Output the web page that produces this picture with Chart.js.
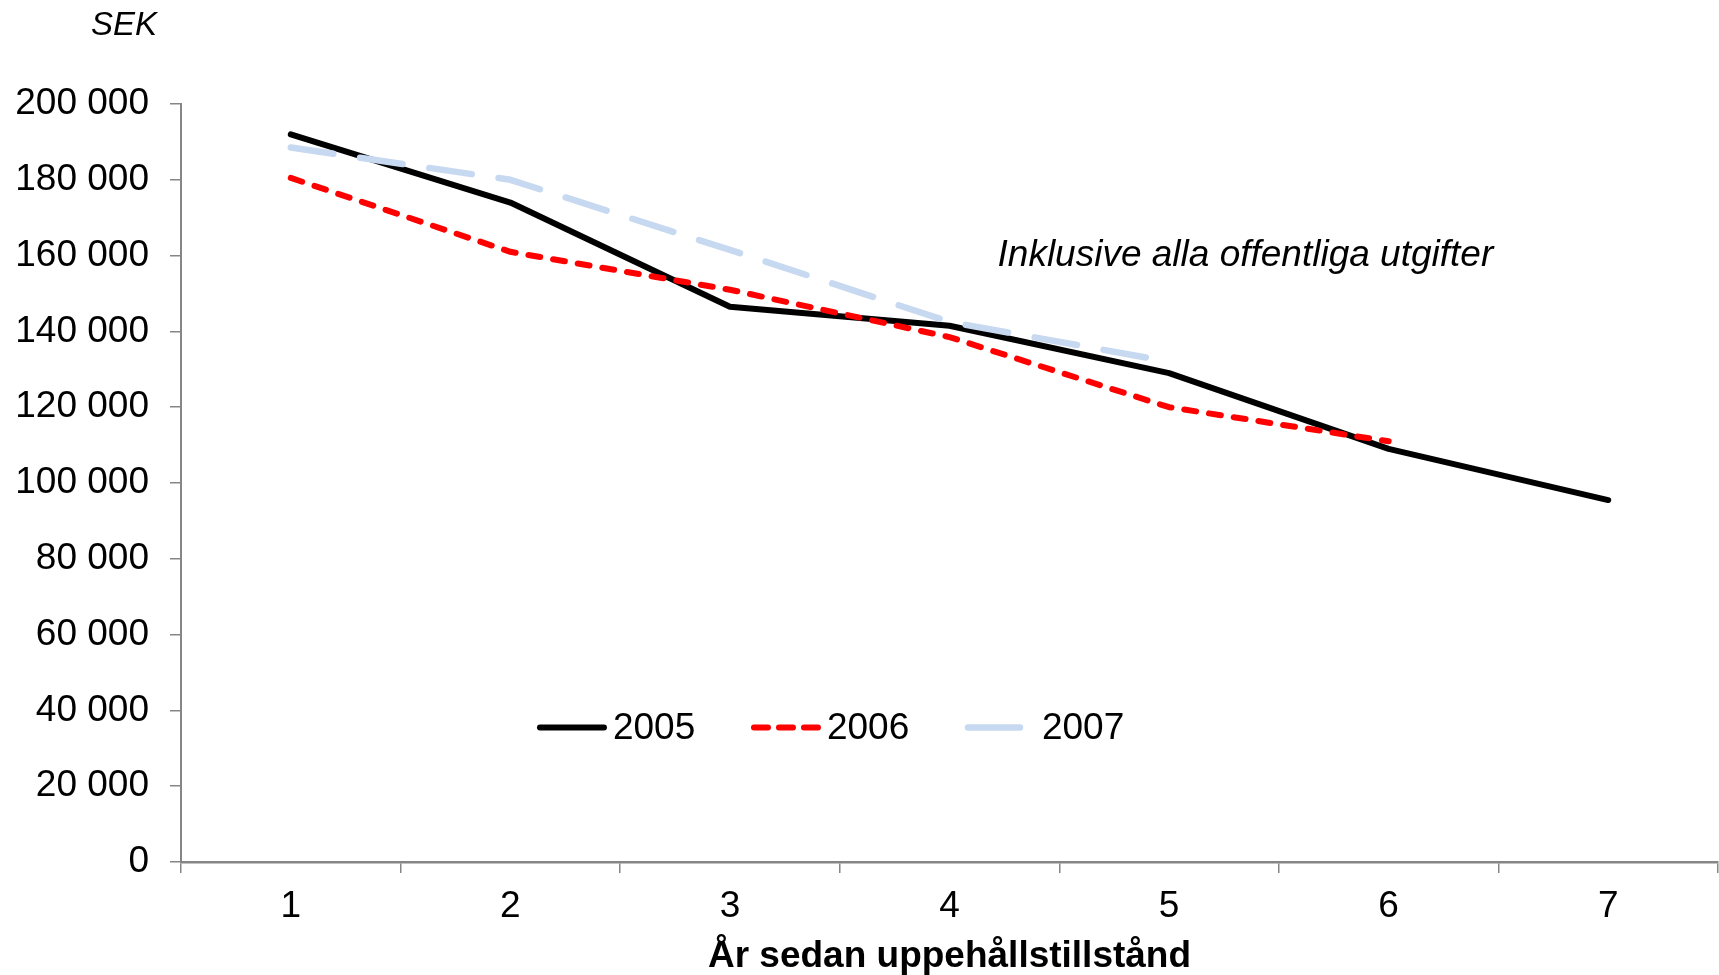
<!DOCTYPE html>
<html><head><meta charset="utf-8">
<script src="https://cdn.jsdelivr.net/npm/chart.js@4/dist/chart.umd.min.js"></script>
<style>html,body{margin:0;padding:0;background:#fff;overflow:hidden}#wrap{width:1719px;height:975px;position:relative}</style>
</head><body><div id="wrap"><canvas id="c" width="1719" height="975"></canvas></div>
<script>
const categories = ['1','2','3','4','5','6','7'];
const series2005 = [192000,174000,146500,141500,129000,109000,95500];
const series2006 = [180500,161000,151000,138500,120000,111000,null];
const series2007 = [188500,180000,161500,142500,132000,null,null];
const seriesNames = ['2005','2006','2007'];
const yMin = 0, yMax = 200000, yStep = 20000;
const unitLabel = 'SEK';
const noteText = 'Inklusive alla offentliga utgifter';
const xTitle = 'År sedan uppehållstillstånd';

const FONT = "'Liberation Sans', Arial, sans-serif";
const AXIS = '#868686';
const styles = [
  {color:'#000000', width:6, dash:[], cap:'round', order:3},
  {color:'#FF0000', width:6, dash:[12,13], cap:'round', order:2},
  {color:'#C6D9F1', width:6.5, dash:[43,27], cap:'round', order:1}
];
const seriesData = [series2005, series2006, series2007];

const fmt = v => String(v).replace(/\B(?=(\d{3})+(?!\d))/g, ' ');

const overlay = {
  id:'overlay',
  afterDraw(chart){
    const ctx = chart.ctx, ca = chart.chartArea, ys = chart.scales.y;
    ctx.save();
    ctx.fillStyle = '#000';
    // unit label
    ctx.font = 'italic 33px ' + FONT;
    ctx.textAlign = 'right'; ctx.textBaseline = 'middle';
    ctx.fillText(unitLabel, ca.left - 24, ca.top - 78);
    // note
    ctx.font = 'italic 37px ' + FONT;
    ctx.textAlign = 'center';
    ctx.fillText(noteText, ca.left + (ca.right - ca.left) * 0.6925, ys.getPixelForValue(160000));
    // legend
    const ly = ys.getPixelForValue(35500);
    let x = ca.left + (ca.right - ca.left) * 0.2316;
    ctx.font = '37px ' + FONT;
    ctx.textAlign = 'left';
    seriesNames.forEach((name, i) => {
      const s = styles[i];
      ctx.beginPath();
      ctx.strokeStyle = s.color; ctx.lineWidth = s.width; ctx.lineCap = s.cap;
      ctx.setLineDash(i === 2 ? [] : (i === 1 ? [14,11] : s.dash));
      const len = i === 2 ? 52 : 64;
      ctx.moveTo(x + 3, ly); ctx.lineTo(x + 3 + len, ly); ctx.stroke();
      ctx.setLineDash([]);
      ctx.fillStyle = '#000';
      ctx.fillText(name, x + (i === 2 ? 77 : 76), ly + 1);
      x += 214;
    });
    ctx.restore();
  }
};

new Chart(document.getElementById('c'), {
  type:'line',
  data:{
    labels:categories,
    datasets: seriesNames.map((n,i)=>({
      label:n, data:seriesData[i], borderColor:styles[i].color, backgroundColor:styles[i].color,
      borderWidth:styles[i].width, borderDash:styles[i].dash, borderCapStyle:styles[i].cap,
      borderJoinStyle:'round', pointRadius:0, pointHoverRadius:0, tension:0, fill:false,
      spanGaps:false, order:styles[i].order
    }))
  },
  options:{
    responsive:false, animation:false, devicePixelRatio:1,
    layout:{padding:{top:104,right:1,left:0,bottom:0}},
    plugins:{legend:{display:false}, title:{display:false}, tooltip:{enabled:false}},
    scales:{
      x:{
        offset:true,
        grid:{offset:true, drawOnChartArea:false, drawTicks:true, tickLength:11, color:AXIS, lineWidth:1.5},
        border:{display:true, color:AXIS, width:2.5},
        ticks:{color:'#000', font:{family:FONT, size:37}, padding:12, maxRotation:0, autoSkip:false},
        title:{display:true, text:xTitle, color:'#000', font:{family:FONT, size:37, weight:'bold'}, padding:{top:4,bottom:-4}},
        afterFit(s){ s.height = 113; }
      },
      y:{
        min:yMin, max:yMax,
        grid:{drawOnChartArea:false, drawTicks:true, tickLength:11, color:AXIS, lineWidth:1.5},
        border:{display:true, color:AXIS, width:2},
        ticks:{stepSize:yStep, color:'#000', font:{family:FONT, size:37}, padding:21, callback:v=>fmt(v)},
        afterFit(s){ s.width = 181; }
      }
    }
  },
  plugins:[overlay]
});
</script></body></html>
